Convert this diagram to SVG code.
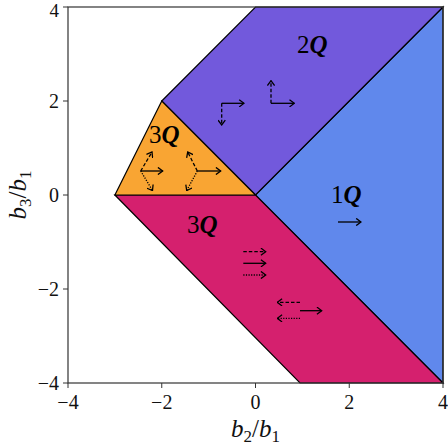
<svg xmlns="http://www.w3.org/2000/svg" width="448" height="446" viewBox="0 0 448 446">
<defs>
<style>
.reg{stroke:#000;stroke-width:1.2;stroke-linejoin:miter}
.lbl{font-family:"Liberation Serif","DejaVu Serif",serif;font-size:25px;fill:#000}
.q{font-weight:bold;font-style:italic}
.tick{font-family:"Liberation Serif","DejaVu Serif",serif;font-size:20px;fill:#111}
.ax{font-family:"Liberation Serif","DejaVu Serif",serif;font-size:25px;fill:#111}
.ar{fill:none;stroke:#000;stroke-width:1.3;marker-end:url(#ah)}
.da{stroke-dasharray:3.5,2}
.do{stroke-dasharray:1.2,1.4}
.tk{stroke:#333;stroke-width:1}
</style>
<marker id="ah" viewBox="0 0 10 10" refX="9" refY="5" markerWidth="8" markerHeight="8" markerUnits="userSpaceOnUse" orient="auto">
<path d="M3,0.5 L9,5 L3,9.5" fill="none" stroke="#000" stroke-width="1.6"/>
</marker>
</defs>
<rect width="448" height="446" fill="#fff"/>
<g id="region-1Q">
<polygon class="reg" fill="#6088ec" points="255.5,195 443,7 443,383"/>
<text class="lbl" x="331" y="203">1<tspan class="q">Q</tspan></text>
<path class="ar" d="M338,222 H361"/>
</g>
<g id="region-2Q">
<polygon class="reg" fill="#7259dc" points="161.75,101 255.5,7 443,7 255.5,195"/>
<text class="lbl" x="297" y="53">2<tspan class="q">Q</tspan></text>
<path class="ar" d="M221.7,103.3 H244"/>
<path class="ar da" d="M221.7,103.3 V125"/>
<path class="ar" d="M271,103.3 H294.3"/>
<path class="ar da" d="M271,103.3 V80.7"/>
</g>
<g id="region-3Q-pink">
<polygon class="reg" fill="#d5206e" points="114.9,195 255.5,195 443,383 300,383"/>
<text class="lbl" x="187" y="233">3<tspan class="q">Q</tspan></text>
<path class="ar da" d="M243.3,251.7 H265.7"/>
<path class="ar" d="M243.3,263.3 H265.7"/>
<path class="ar do" d="M243.3,275 H265.7"/>
<path class="ar da" d="M300,302.3 H277.3"/>
<path class="ar" d="M300,310.7 H321.7"/>
<path class="ar do" d="M300,318.3 H277.3"/>
</g>
<g id="region-3Q-orange">
<polygon class="reg" fill="#f9a533" points="114.9,195 161.75,101 255.5,195"/>
<text class="lbl" x="149" y="143">3<tspan class="q">Q</tspan></text>
<path class="ar" d="M140.7,171 H162.7"/>
<path class="ar da" d="M140.7,171 L152,152"/>
<path class="ar do" d="M140.7,171 L152.5,190.5"/>
<path class="ar" d="M197.3,171 H220.7"/>
<path class="ar da" d="M197.3,171 L187.7,152"/>
<path class="ar do" d="M197.3,171 L186.7,190.5"/>
</g>
<g id="axes">
<rect x="68" y="7" width="375" height="376" fill="none" stroke="#333" stroke-width="1.2"/>
<path class="tk" d="M68,383 V388 M161.75,383 V388 M255.5,383 V388 M349.25,383 V388 M443,383 V388 M68,7 H63 M68,101 H63 M68,195 H63 M68,289 H63 M68,383 H63"/>
<g class="tick" text-anchor="middle">
<text x="68" y="409">−4</text>
<text x="161.75" y="409">−2</text>
<text x="255.5" y="409">0</text>
<text x="349.25" y="409">2</text>
<text x="443" y="409">4</text>
</g>
<g class="tick" text-anchor="end">
<text x="59" y="17" font-size="19">4</text>
<text x="59" y="108">2</text>
<text x="59" y="202">0</text>
<text x="59" y="296">−2</text>
<text x="59" y="390">−4</text>
</g>
<text class="ax" x="255.5" y="437" text-anchor="middle"><tspan font-style="italic">b</tspan><tspan font-size="17" dy="5">2</tspan><tspan dy="-5">/</tspan><tspan font-style="italic">b</tspan><tspan font-size="17" dy="5">1</tspan></text>
<text class="ax" transform="translate(26,195) rotate(-90)" text-anchor="middle"><tspan font-style="italic">b</tspan><tspan font-size="17" dy="5">3</tspan><tspan dy="-5">/</tspan><tspan font-style="italic">b</tspan><tspan font-size="17" dy="5">1</tspan></text>
</g>
</svg>
